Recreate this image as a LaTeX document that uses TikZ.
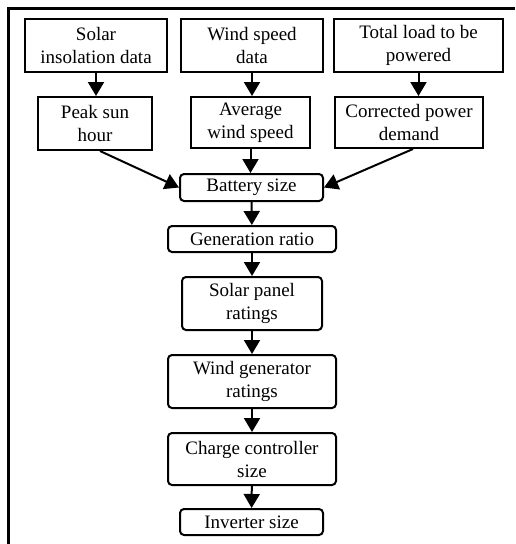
\documentclass[tikz,border=0pt]{standalone}
\usepackage{fontspec}
\setmainfont{Liberation Serif}
\usetikzlibrary{positioning,arrows.meta,calc}

\begin{document}
\begin{tikzpicture}[
    x=1pt, y=-1pt,
    every node/.style={font=\fontsize{19}{23}\selectfont, align=center, inner sep=0pt},
    inbox/.style={rectangle, draw, line width=2pt, minimum height=53pt},
    stepbox/.style={rectangle, draw, line width=2pt, rounded corners=4pt},
    flow/.style={-{Triangle[width=16pt,length=14pt]}, line width=2pt}
  ]

  \useasboundingbox (0,0) rectangle (515,544);

  % Frame
  \draw[line width=3pt] (8,544) -- (8,8) -- (515,8);

  % Inputs
  \node[inbox, minimum width=142pt] (solar) at (96,45.5) {Solar\\insolation data};
  \node[inbox, minimum width=142pt] (wind) at (252,45.5) {Wind speed\\data};
  \node[inbox, minimum width=169pt] (load) at (418.5,45.5) {Total load to be\\powered};

  \node[inbox, minimum width=114pt] (peak) at (95,123.5) {Peak sun\\hour};
  \node[inbox, minimum width=119pt, minimum height=51pt] (avgwind) at (250.5,122.5) {Average\\wind speed};
  \node[inbox, minimum width=148pt, minimum height=51pt] (demand) at (409,122.5) {Corrected power\\demand};

  % Sizing steps
  \node[stepbox, minimum width=143pt, minimum height=27pt] (battery) at (251.5,187.5) {Battery size};
  \node[stepbox, minimum width=168pt, minimum height=26pt] (ratio) at (252,239) {Generation ratio};
  \node[stepbox, minimum width=140pt, minimum height=53pt] (panel) at (252,303.5) {Solar panel\\ratings};
  \node[stepbox, minimum width=168pt, minimum height=53pt] (windgen) at (252,381.5) {Wind generator\\ratings};
  \node[stepbox, minimum width=168pt, minimum height=52pt] (charge) at (252,459) {Charge controller\\size};
  \node[stepbox, minimum width=143pt, minimum height=26pt] (inverter) at (251.5,522) {Inverter size};

  % Arrows
  \draw[flow] (solar.south) -- (solar.south |- peak.north);
  \draw[flow] (wind.south) -- (wind.south |- avgwind.north);
  \draw[flow] (load.south) -- (load.south |- demand.north);
  \draw[flow] ($(peak.south)+(5,0)$) -- (battery.west);
  \draw[flow] (avgwind.south) -- (avgwind.south |- battery.north);
  \draw[flow] ($(demand.south)+(4,0)$) -- (battery.east);
  \draw[flow] (battery) -- (ratio);
  \draw[flow] (ratio) -- (panel);
  \draw[flow] (panel) -- (windgen);
  \draw[flow] (windgen) -- (charge);
  \draw[flow] (charge) -- (inverter);

\end{tikzpicture}
\end{document}
